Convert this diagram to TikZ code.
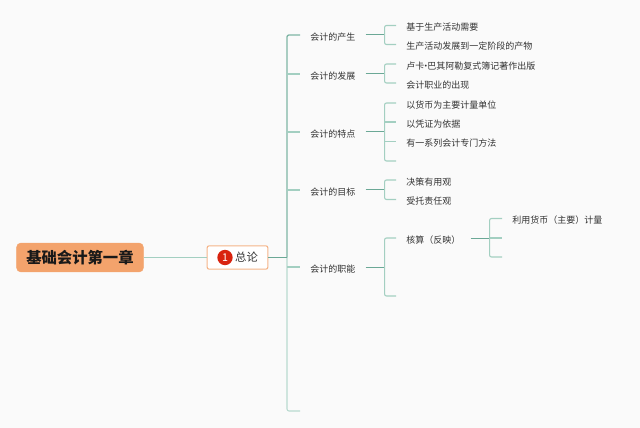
\documentclass[tikz,border=0pt]{standalone}
\usepackage{fontspec}
\setmainfont{Noto Sans CJK SC}
\usepackage{xcolor}
\usepackage{tikz}
\usetikzlibrary{positioning}
\definecolor{rootfill}{HTML}{F3A36C}
\definecolor{badgered}{HTML}{D9230F}
\definecolor{lnlight}{HTML}{A3CFC1}
\definecolor{lnpale}{HTML}{B9DAD0}
\definecolor{lndark}{HTML}{6BA896}
\definecolor{lntrunk}{HTML}{7FB5A5}
\definecolor{txtgray}{HTML}{333333}

\begin{document}
\begin{tikzpicture}[
    x=0.75pt, y=-0.75pt,
    rootbox/.style={fill=rootfill, draw=rootfill, rounded corners=3pt, minimum width=95pt, minimum height=21.5pt,
                    inner sep=0pt, font=\fontsize{11.5pt}{13pt}\selectfont\bfseries, text=black!90},
    topicbox/.style={fill=white, draw=rootfill!80, line width=0.8pt, rounded corners=1.5pt, minimum width=45.5pt,
                     minimum height=17.5pt, inner sep=0pt},
    badge/.style={circle, fill=badgered, text=white, minimum size=11.5pt, inner sep=0pt,
                  font=\fontsize{8pt}{9pt}\selectfont},
    lbl/.style={anchor=west, inner xsep=7.5pt, inner ysep=1pt, text=txtgray, text height=8.6pt, text depth=0.8pt,
                font=\fontsize{6.75pt}{8pt}\selectfont},
    stub/.style={draw=lnlight, line width=0.8pt, rounded corners=1.5pt},
    stem/.style={draw=lndark, line width=0.75pt},
    trunk/.style={draw=lntrunk, line width=1pt, rounded corners=1.5pt},
  ]

  \fill[white!98!black] (0,0) rectangle (640,428);

  \node[rootbox] (root) at (80,257.5) {基础会计第一章};
  \node[topicbox] (topic) at (237.5,257.5) {};
  \node[badge] (num) at (225,257.5) {1};
  \node[anchor=west, inner sep=0pt, text=txtgray, font=\fontsize{8.5pt}{10pt}\selectfont, right=1.5pt of num] (topictxt) {总论};

  % second level
  \node[lbl] (gen)  at (300,35)  {会计的产生};
  \node[lbl] (dev)  at (300,74)  {会计的发展};
  \node[lbl] (feat) at (300,132) {会计的特点};
  \node[lbl] (goal) at (300,190) {会计的目标};
  \node[lbl] (func) at (300,267) {会计的职能};
  \coordinate (last) at (300,411);

  % third level
  \node[lbl] (gen1) at (396,25.5)  {基于生产活动需要};
  \node[lbl] (gen2) at (396,44.5)  {生产活动发展到一定阶段的产物};
  \node[lbl] (dev1) at (396,64)    {卢卡\kern-2.2pt·\kern-2.2pt巴其阿勒复式簿记著作出版};
  \node[lbl] (dev2) at (396,83)    {会计职业的出现};
  \node[lbl] (feat1) at (396,103)  {以货币为主要计量单位};
  \node[lbl] (feat2) at (396,122)  {以凭证为依据};
  \node[lbl] (feat3) at (396,141.5) {有一系列会计专门方法};
  \coordinate (feat4) at (396,161);
  \node[lbl] (goal1) at (396,180)  {决策有用观};
  \node[lbl] (goal2) at (396,199.5) {受托责任观};
  \node[lbl] (func1) at (396,238)  {核算（反映）};
  \coordinate (func2) at (396,296);

  % fourth level
  \node[lbl] (acc1) at (502,218.5) {利用货币（主要）计量};
  \coordinate (acc2) at (502,238);
  \coordinate (acc3) at (502,257);

  \coordinate (tj) at (287,257.5);

  \draw[stub, draw=lnpale] (tj) |- (last);
  \draw[stub] (root.east) -- (topic.west);
  \draw[trunk] (gen.west) -| (tj);
  \draw[stem] (topic.east) -- (tj);
  \draw[stub] (tj |- dev.west) -- (dev.west);
  \draw[stub] (tj |- feat.west) -- (feat.west);
  \draw[stub] (tj |- goal.west) -- (goal.west);
  \draw[stub] (tj |- func.west) -- (func.west);

  % branches
  \draw[stem] (gen.east) -- +(19,0) coordinate (gj);
  \draw[stub] (gen1.west) -| (gj) |- (gen2.west);
  \draw[stem] (dev.east) -- +(19,0) coordinate (dj);
  \draw[stub] (dev1.west) -| (dj) |- (dev2.west);
  \draw[stem] (feat.east) -- +(19,0) coordinate (fj);
  \draw[stub] (feat1.west) -| (fj) |- (feat4);
  \draw[stub] (fj |- feat2.west) -- (feat2.west);
  \draw[stub] (fj |- feat3.west) -- (feat3.west);
  \draw[stem] (goal.east) -- +(19,0) coordinate (oj);
  \draw[stub] (goal1.west) -| (oj) |- (goal2.west);
  \draw[stem] (func.east) -- +(19,0) coordinate (cj);
  \draw[stub] (func1.west) -| (cj) |- (func2);
  \draw[stem] (func1.east) -- +(19,0) coordinate (aj);
  \draw[stub] (acc1.west) -| (aj) |- (acc3);
  \draw[stub] (aj |- acc2) -- (acc2);

\end{tikzpicture}
\end{document}
